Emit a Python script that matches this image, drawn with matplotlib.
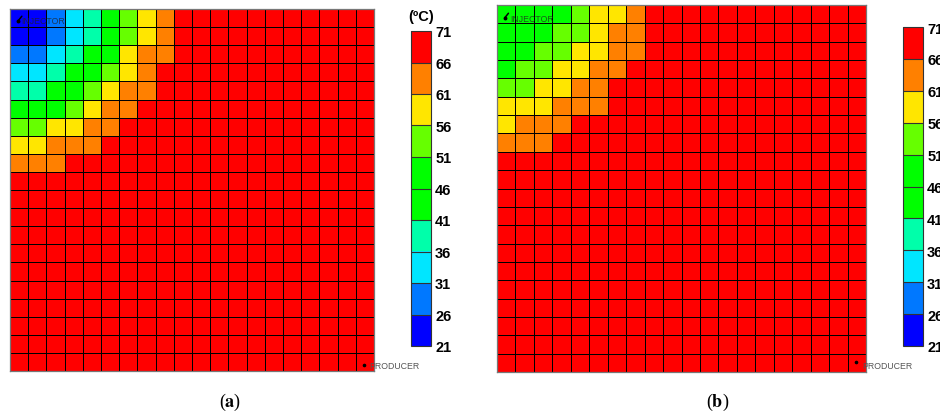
import numpy as np
import matplotlib
matplotlib.use('Agg')
import matplotlib.pyplot as plt
from matplotlib.colors import ListedColormap, BoundaryNorm
from matplotlib.cm import ScalarMappable

# temperature classes of the legend (ºC) and their colours
levels = [21, 26, 31, 36, 41, 46, 51, 56, 61, 66, 71]
level_colors = ['#0000ff', '#0078ff', '#00e6ff', '#00ffaa', '#00ff00',
                '#00ff00', '#66ff00', '#ffe600', '#ff8000', '#ff0000']

grid_size = 20
background_temp = 69  # every cell outside the cooled corner

# cooled corner near the injector, row by row from the top (ºC)
corner_a = [
    [24, 24, 28, 33, 38, 44, 53, 58, 63],
    [24, 24, 28, 33, 38, 44, 53, 58, 63],
    [28, 28, 33, 38, 44, 48, 58, 63, 63],
    [33, 33, 38, 44, 48, 53, 58, 63],
    [38, 38, 44, 48, 53, 58, 63, 63],
    [44, 48, 48, 53, 58, 63, 63],
    [53, 53, 58, 58, 63, 63],
    [58, 58, 63, 63, 63],
    [63, 63, 63],
]
corner_b = [
    [48, 48, 48, 48, 53, 58, 58, 63],
    [48, 48, 48, 53, 53, 58, 63, 63],
    [48, 48, 53, 53, 58, 58, 63, 63],
    [48, 53, 53, 58, 58, 63, 63],
    [53, 53, 58, 58, 63, 63],
    [58, 58, 58, 63, 63, 63],
    [58, 63, 63, 63],
    [63, 63, 63],
]

cmap = ListedColormap(level_colors)
norm = BoundaryNorm(levels, cmap.N)


def build_field(corner):
    field = np.full((grid_size, grid_size), background_temp, dtype=float)
    for i, row in enumerate(corner):
        field[i, :len(row)] = row
    return field


def draw_panel(fig, rect, field, injector, producer):
    ax = fig.add_axes(rect)
    ax.pcolormesh(field, cmap=cmap, norm=norm, edgecolors='black', linewidth=0.55)
    ax.set_xlim(0, grid_size)
    ax.set_ylim(grid_size, 0)
    ax.set_xticks([])
    ax.set_yticks([])
    for s in ax.spines.values():
        s.set_color('#777777')
        s.set_linewidth(0.9)

    # well symbols
    (mx, my), (tx, ty) = injector
    ax.plot([mx, mx + 0.2], [my + 0.2, my - 0.05], color='black', lw=1.1,
            solid_capstyle='round')
    ax.plot([mx], [my + 0.2], 'o', color='black', ms=1.8)
    ax.text(tx, ty, 'INJECTOR', fontsize=6.3, family='Liberation Sans',
            color='#222222', alpha=0.75, va='center', ha='left')

    (px, py), (qx, qy) = producer
    ax.plot([px], [py], 'o', color='black', ms=1.6, clip_on=False)
    ax.text(qx, qy, 'PRODUCER', fontsize=6.3, family='Liberation Sans',
            color='#555555', va='center', ha='left', clip_on=False)
    return ax


def draw_colorbar(fig, rect):
    cax = fig.add_axes(rect)
    cb = fig.colorbar(ScalarMappable(norm=norm, cmap=cmap), cax=cax,
                      ticks=levels, drawedges=True)
    cb.outline.set_edgecolor('#333333')
    cb.outline.set_linewidth(0.8)
    cb.dividers.set_color('#333333')
    cb.dividers.set_linewidth(0.8)
    cax.tick_params(length=0, pad=3)
    for lab in cax.get_yticklabels():
        lab.set_fontweight('bold')
        lab.set_fontfamily('Liberation Sans')
        lab.set_fontsize(10.5)
    return cb


W, H = 940, 414
fig = plt.figure(figsize=(W / 100, H / 100), dpi=100)
plt.rcParams['mathtext.fontset'] = 'stix'


def frac(left, top, right, bottom):
    return [left / W, 1 - bottom / H, (right - left) / W, (bottom - top) / H]


draw_panel(fig, frac(10, 10, 374, 372), build_field(corner_a),
           injector=((0.45, 0.45), (0.64, 0.64)),
           producer=((19.45, 19.67), (19.73, 19.72)))
draw_colorbar(fig, frac(411, 32, 431, 347))
fig.text(421 / W, 1 - 17 / H, '(ºC)', ha='center', va='center',
         fontweight='bold', family='Liberation Sans', fontsize=10.5)

draw_panel(fig, frac(497, 6, 866, 373), build_field(corner_b),
           injector=((0.42, 0.5), (0.70, 0.71)),
           producer=((19.46, 19.45), (19.78, 19.67)))
draw_colorbar(fig, frac(903, 28, 923, 347))

fig.text(230 / W, 1 - 402 / H, r'($\mathbf{a}$)', ha='center', va='center',
         family='Liberation Serif', fontsize=13)
fig.text(718 / W, 1 - 402 / H, r'($\mathbf{b}$)', ha='center', va='center',
         family='Liberation Serif', fontsize=13)

fig.savefig('out.png', dpi=100)
